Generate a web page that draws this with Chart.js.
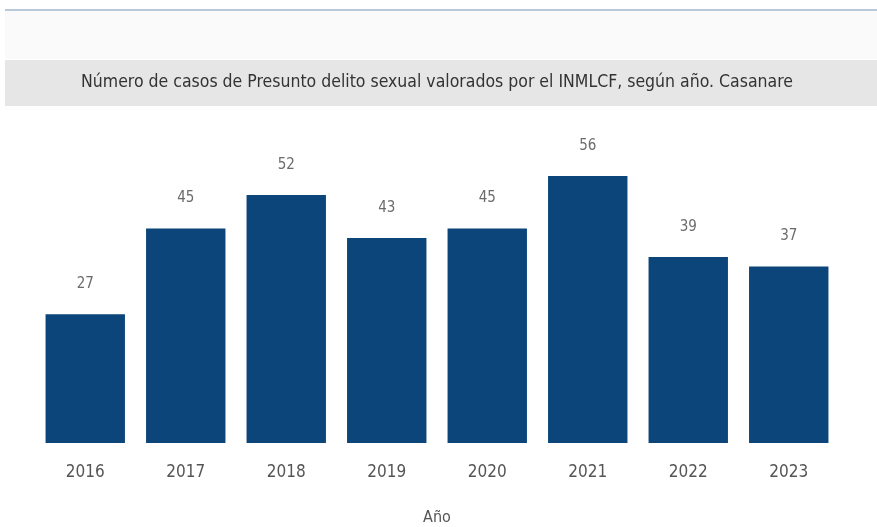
<!DOCTYPE html>
<html>
<head>
<meta charset="utf-8">
<script src="https://cdn.jsdelivr.net/npm/chart.js@4"></script>
<style>
  html, body { margin: 0; padding: 0; background: #ffffff; }
  #wrap { width: 877px; height: 527px; position: relative; }
</style>
</head>
<body>
<div id="wrap"><canvas id="casosChart"></canvas></div>
<script>
const years = ['2016', '2017', '2018', '2019', '2020', '2021', '2022', '2023'];
const casos = [27, 45, 52, 43, 45, 56, 39, 37];
const chartTitle = 'Número de casos de Presunto delito sexual valorados por el INMLCF, según año. Casanare';
const axisTitle = 'Año';

const condensed = "'DejaVu Sans Condensed', 'Liberation Sans Narrow', 'DejaVu Sans', sans-serif";

// gray header band + thin top rule, like the report frame
const headerBand = {
    id: 'headerBand',
    beforeDraw(chart) {
        const ctx = chart.ctx;
        const w = chart.width;
        ctx.save();
        ctx.fillStyle = '#fafafa';
        ctx.fillRect(5, 11, w - 5, 48);
        ctx.fillStyle = '#b9c8da';
        ctx.fillRect(5, 9, w - 5, 2);
        ctx.fillStyle = '#e6e6e6';
        ctx.fillRect(5, 60, w - 5, 46);
        ctx.restore();
    }
};

// value labels above each bar
const barValues = {
    id: 'barValues',
    afterDatasetsDraw(chart) {
        const ctx = chart.ctx;
        const meta = chart.getDatasetMeta(0);
        ctx.save();
        ctx.font = '15px ' + condensed;
        ctx.fillStyle = '#6b6b6b';
        ctx.textAlign = 'center';
        ctx.textBaseline = 'middle';
        meta.data.forEach((bar, i) => {
            ctx.fillText(String(casos[i]), bar.x, bar.y - 30);
        });
        ctx.restore();
    }
};

const ctx = document.getElementById('casosChart').getContext('2d');
const casosChart = new Chart(ctx, {
    type: 'bar',
    data: {
        labels: years,
        datasets: [{
            label: 'Casos',
            data: casos,
            backgroundColor: '#0b457a',
            borderWidth: 0,
            barPercentage: 0.79,
            categoryPercentage: 1
        }]
    },
    options: {
        responsive: true,
        maintainAspectRatio: false,
        animation: false,
        layout: {
            padding: { left: 35, right: 38, top: 0, bottom: 0 }
        },
        plugins: {
            legend: { display: false },
            tooltip: { enabled: false },
            title: {
                display: true,
                text: chartTitle,
                color: '#333333',
                font: { family: condensed, size: 17.5, weight: 'normal' },
                padding: { top: 72, bottom: 64 }
            }
        },
        scales: {
            x: {
                grid: { display: false },
                border: { display: false },
                ticks: {
                    color: '#555555',
                    font: { family: condensed, size: 17 },
                    padding: 11
                },
                title: {
                    display: true,
                    text: axisTitle,
                    color: '#555555',
                    font: { family: condensed, size: 16 },
                    padding: { top: 14.5, bottom: 0 }
                }
            },
            y: {
                display: false,
                min: 0,
                max: 60
            }
        }
    },
    plugins: [headerBand, barValues]
});
</script>
</body>
</html>
